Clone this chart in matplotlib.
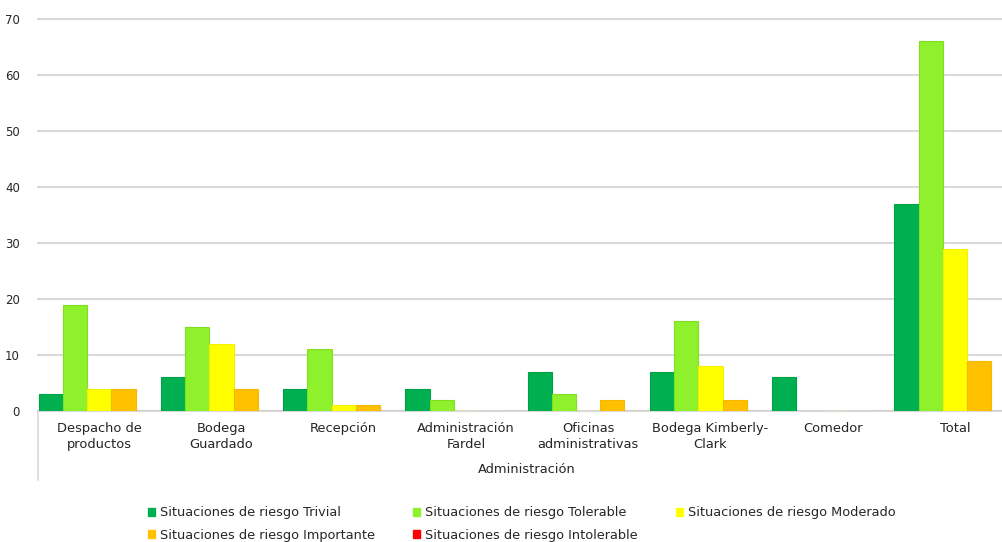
import matplotlib
matplotlib.use("Agg")
import matplotlib.pyplot as plt
from matplotlib.patches import Patch
from matplotlib.lines import Line2D
import numpy as np

plt.rcParams['font.family'] = ['DejaVu Sans']

categories = ["Despacho de\nproductos", "Bodega\nGuardado", "Recepción",
              "Administración\nFardel", "Oficinas\nadministrativas",
              "Bodega Kimberly-\nClark", "Comedor", "Total"]
group_label = "Administración"

series_names = ["Situaciones de riesgo Trivial",
                "Situaciones de riesgo Tolerable",
                "Situaciones de riesgo Moderado",
                "Situaciones de riesgo Importante",
                "Situaciones de riesgo Intolerable"]
trivial = [3, 6, 4, 4, 7, 7, 6, 37]
tolerable = [19, 15, 11, 2, 3, 16, 0, 66]
moderado = [4, 12, 1, 0, 0, 8, 0, 29]
importante = [4, 4, 1, 0, 2, 2, 0, 9]
intolerable = [0, 0, 0, 0, 0, 0, 0, 0]

yticks = [0, 10, 20, 30, 40, 50, 60, 70]

series = [trivial, tolerable, moderado, importante, intolerable]
fills = ["#00B050", "#8FF02C", "#FFFF00", "#FFC000", "#FF0000"]
edges = ["#00A046", "#7FE020", "#F2F200", "#F5B800", "#E00000"]
text_color = "#262626"

fig = plt.figure(figsize=(10.02, 5.42), dpi=100)
# plot area runs slightly past the right edge of the canvas
ax = fig.add_axes([0.038, 0.2417, 0.976, 0.7233])

x = np.arange(len(categories))
n = len(series)
w = 1.0 / (n + 0.05)
for i, (vals, fc, ec) in enumerate(zip(series, fills, edges)):
    ax.bar(x + (i - (n - 1) / 2) * w, vals, width=w, color=fc,
           edgecolor=ec, linewidth=0.8, zorder=3)

ax.set_xlim(-0.5, len(categories) - 0.5)
ax.set_ylim(0, 70)
ax.set_yticks(yticks)
ax.yaxis.grid(True, color="#D9D9D9", linewidth=1.5, zorder=0)
for gl in ax.get_ygridlines():
    gl.set_clip_on(False)
ax.tick_params(axis="y", length=0, pad=13, labelsize=8.5, labelcolor=text_color)
ax.tick_params(axis="x", length=0, labelbottom=False)
for s in ["top", "right", "left"]:
    ax.spines[s].set_visible(False)
ax.spines["bottom"].set_color("#D9D9D9")
ax.spines["bottom"].set_linewidth(1.5)

# category labels under each group
for xi, lab in zip(x, categories):
    ax.text(xi, -0.028, lab, transform=ax.get_xaxis_transform(),
            ha="center", va="top", fontsize=9.4, color=text_color,
            linespacing=1.3)

# outer category level label and left divider
ax.text(0.5, -0.148, group_label, transform=ax.transAxes, ha="center",
        va="center", fontsize=9.4, color=text_color)
ax.add_line(Line2D([0, 0], [0, -0.176], transform=ax.transAxes,
                   color="#D9D9D9", linewidth=1.2, clip_on=False))

# legend entries ordered so the rows read left to right
order = [0, 3, 1, 4, 2]
handles = [Patch(facecolor=fills[k], edgecolor=fills[k]) for k in order]
labels = [series_names[k] for k in order]
fig.legend(handles, labels, loc="upper left",
           bbox_to_anchor=(0.1477, 0.066), ncol=3, frameon=False,
           fontsize=9.3, handlelength=0.55, handleheight=0.55,
           handletextpad=0.35, columnspacing=3.0, labelspacing=0.72,
           borderaxespad=0, borderpad=0, labelcolor=text_color)

fig.savefig("out.png", dpi=100)
